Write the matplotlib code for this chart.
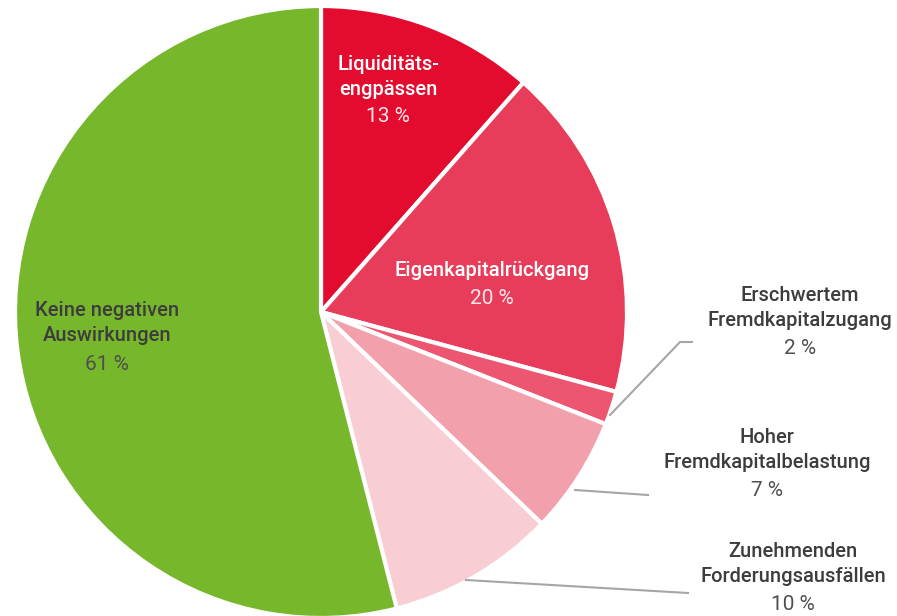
import matplotlib
matplotlib.use("agg")
import matplotlib.pyplot as plt

# data, clockwise from 12 o'clock
labels = ["Liquiditäts-\nengpässen", "Eigenkapitalrückgang", "Erschwertem\nFremdkapitalzugang",
          "Hoher\nFremdkapitalbelastung", "Zunehmenden\nForderungsausfällen", "Keine negativen\nAuswirkungen"]
values = [13, 20, 2, 7, 10, 61]
colors = ["#E30B2E", "#E83D5A", "#EC5670", "#F3A0AD", "#F8CDD4", "#77B72B"]

W, H = 897, 616
fig = plt.figure(figsize=(W / 100, H / 100), dpi=100)
ax = fig.add_axes([0, 0, 1, 1])

cx, cy, r = 321, 312, 306
# inverted y axis flips direction, so counterclock=True draws clockwise on screen
wedges, _ = ax.pie(values, colors=colors, startangle=-90, counterclock=True,
                   center=(cx, cy), radius=r, frame=True,
                   wedgeprops=dict(edgecolor="white", linewidth=3))
ax.set_xlim(0, W)
ax.set_ylim(H, 0)
ax.set_aspect("equal")
ax.axis("off")

fam = ["Roboto", "DejaVu Sans"]
name_pos = [(388, 77), (492, 270), (800, 308), (767, 450), (793, 564), (107, 323)]
pct_pos = [(388, 117), (492, 298), (800, 349), (767, 490), (793, 605), (107, 365)]

for i, lab in enumerate(labels):
    if i < 2:
        c1, c2 = "white", "#FCE8EB"
    else:
        c1, c2 = "#3D3D3D", "#4F4F4F"
    ax.text(name_pos[i][0], name_pos[i][1], lab, ha="center", va="center",
            fontsize=14.5, color=c1, family=fam, weight="medium", linespacing=1.45)
    ax.text(pct_pos[i][0], pct_pos[i][1], f"{values[i]} %", ha="center", va="center",
            fontsize=15, color=c2, family=fam, weight="normal")

# leader lines
lc = "#A6A6A6"
ax.plot([610, 680, 692], [415, 342, 342], color=lc, lw=1.5)
ax.plot([575, 648], [490, 495], color=lc, lw=1.5)
ax.plot([466, 688], [580, 593], color=lc, lw=1.5)

plt.savefig("out.png", facecolor="w")
